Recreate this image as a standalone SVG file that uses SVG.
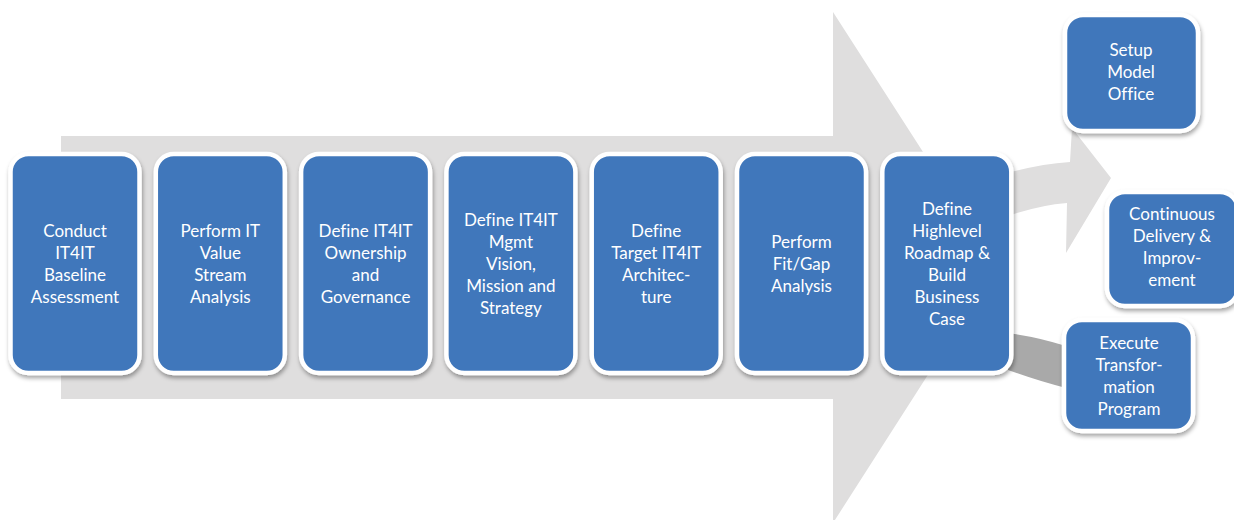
<svg xmlns="http://www.w3.org/2000/svg" width="1234" height="520" viewBox="0 0 1234 520">
<defs>
<filter id="sh" x="-10%" y="-10%" width="125%" height="125%">
<feDropShadow dx="1" dy="3" stdDeviation="2" flood-color="#000" flood-opacity="0.35"/>
</filter>
<style>
.box{fill:#4077bb;stroke:#fff;stroke-width:4.5;filter:url(#sh)}
.lbl{font-family:Lato,"Open Sans","Liberation Sans",sans-serif;font-size:17px;fill:#fff;text-anchor:middle;font-variant-ligatures:none}
.light{fill:#dfdede}
.dark{fill:#a9a9a9}
</style>
</defs>
<rect width="1234" height="520" fill="#fff"/>
<g id="connectors">
<polygon class="light" points="61,136 833,136 833,12 997,267 833,523 833,399 61,399"/>
<path class="light" d="M1008,173 Q1040,164 1070,162 L1072,128 L1111,178 L1066,253 L1067,203 Q1040,205 1008,216 Z"/>
<path class="dark" d="M1008,333 Q1038,337 1066,346 L1066,388 Q1038,381 1008,370 Z"/>
</g>
<g id="n1"><rect class="box" x="10.5" y="154" width="129" height="219" rx="18"/>
<text class="lbl"><tspan x="75" y="237">Conduct</tspan><tspan x="75" y="259">IT4IT</tspan><tspan x="75" y="281">Baseline</tspan><tspan x="75" y="303">Assessment</tspan></text></g>
<g id="n2"><rect class="box" x="155.8" y="154" width="129" height="219" rx="18"/>
<text class="lbl"><tspan x="220.3" y="237">Perform IT</tspan><tspan x="220.3" y="259">Value</tspan><tspan x="220.3" y="281">Stream</tspan><tspan x="220.3" y="303">Analysis</tspan></text></g>
<g id="n3"><rect class="box" x="301.1" y="154" width="129" height="219" rx="18"/>
<text class="lbl"><tspan x="365.6" y="237">Define IT4IT</tspan><tspan x="365.6" y="259">Ownership</tspan><tspan x="365.6" y="281">and</tspan><tspan x="365.6" y="303">Governance</tspan></text></g>
<g id="n4"><rect class="box" x="446.4" y="154" width="129" height="219" rx="18"/>
<text class="lbl"><tspan x="510.9" y="226">Define IT4IT</tspan><tspan x="510.9" y="248">Mgmt</tspan><tspan x="510.9" y="270">Vision,</tspan><tspan x="510.9" y="292">Mission and</tspan><tspan x="510.9" y="314">Strategy</tspan></text></g>
<g id="n5"><rect class="box" x="591.7" y="154" width="129" height="219" rx="18"/>
<text class="lbl"><tspan x="656.2" y="237">Define</tspan><tspan x="656.2" y="259">Target IT4IT</tspan><tspan x="656.2" y="281">Architec-</tspan><tspan x="656.2" y="303">ture</tspan></text></g>
<g id="n6"><rect class="box" x="737" y="154" width="129" height="219" rx="18"/>
<text class="lbl"><tspan x="801.5" y="248">Perform</tspan><tspan x="801.5" y="270">Fit/Gap</tspan><tspan x="801.5" y="292">Analysis</tspan></text></g>
<g id="n7"><rect class="box" x="882.3" y="154" width="129" height="219" rx="18"/>
<text class="lbl"><tspan x="947" y="215">Define</tspan><tspan x="947" y="237">Highlevel</tspan><tspan x="947" y="259">Roadmap &amp;</tspan><tspan x="947" y="281">Build</tspan><tspan x="947" y="303">Business</tspan><tspan x="947" y="325">Case</tspan></text></g>
<g id="n8"><rect class="box" x="1065" y="15" width="133" height="116" rx="18"/>
<text class="lbl"><tspan x="1131" y="56">Setup</tspan><tspan x="1131" y="78">Model</tspan><tspan x="1131" y="100">Office</tspan></text></g>
<g id="n9"><rect class="box" x="1107" y="192" width="131" height="114" rx="18"/>
<text class="lbl"><tspan x="1172" y="220">Continuous</tspan><tspan x="1172" y="242">Delivery &amp;</tspan><tspan x="1172" y="264">Improv-</tspan><tspan x="1172" y="286">ement</tspan></text></g>
<g id="n10"><rect class="box" x="1064" y="320" width="129" height="111" rx="18"/>
<text class="lbl"><tspan x="1129" y="349">Execute</tspan><tspan x="1129" y="371">Transfor-</tspan><tspan x="1129" y="393">mation</tspan><tspan x="1129" y="415">Program</tspan></text></g>
</svg>
